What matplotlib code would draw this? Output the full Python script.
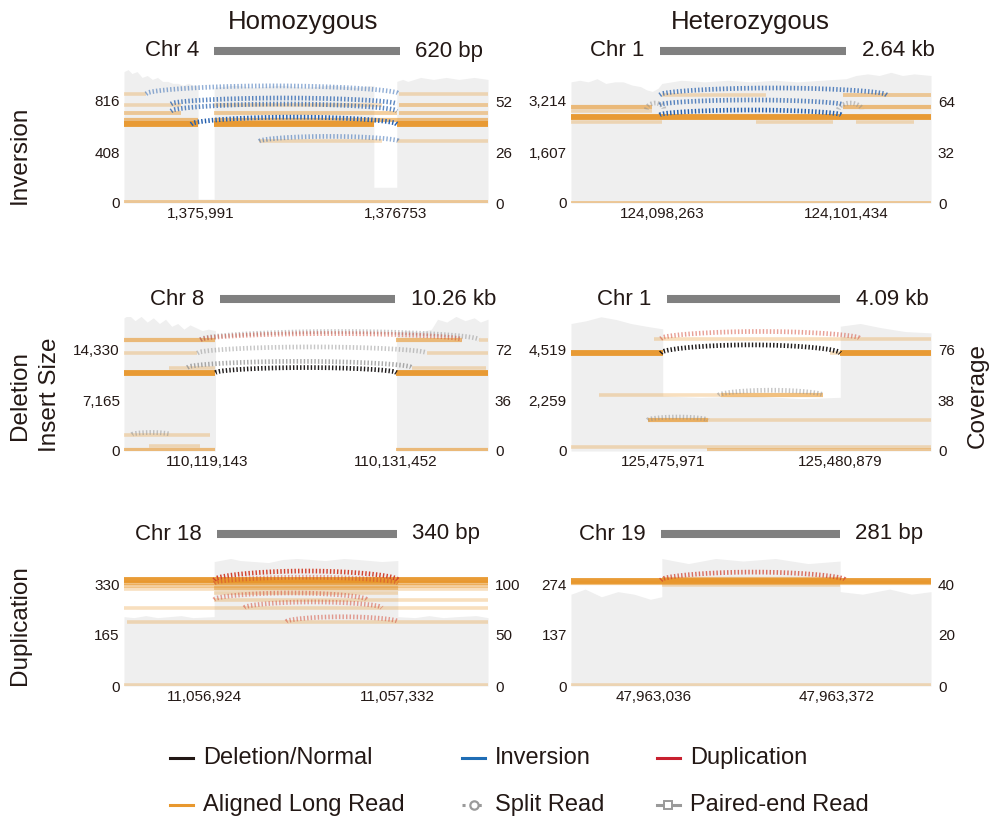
import numpy as np
import matplotlib.pyplot as plt
from matplotlib.lines import Line2D
from matplotlib.transforms import blended_transform_factory

plt.rcParams["font.family"] = ["Liberation Sans", "DejaVu Sans"]

# reads are (start, end, insert size, read count)
# arcs are (start, end, insert size at ends, insert size at apex, kind, read count)
# coverage is a polyline; repeated positions mark the breakpoints

# inversion, homozygous
inv_hom_chrom = "Chr 4"
inv_hom_size = "620 bp"
inv_hom_span = (1376042, 1376769)
inv_hom_xlim = (1375689, 1377114)
inv_hom_xticks = [1375991, 1376753]
inv_hom_xlabels = ["1,375,991", "1,376753"]
inv_hom_yticks = [0, 408, 816]
inv_hom_cov_ticks = [0, 26, 52]
inv_hom_cov_x = [1375689, 1375705, 1375720, 1375740, 1375760, 1375780, 1375800, 1375820,
                 1375840, 1375860, 1375880, 1375900, 1375920, 1375940, 1375960, 1375979,
                 1375979, 1376042, 1376042, 1376120, 1376200, 1376300, 1376400, 1376500,
                 1376600, 1376667, 1376667, 1376757, 1376757, 1376780, 1376800, 1376850,
                 1376900, 1376950, 1377000, 1377060, 1377114]
inv_hom_cov_y = [67, 68, 66, 67, 64, 65, 63, 64, 62, 62, 61, 61, 60, 61, 60, 60,
                 2, 2, 59, 60, 59, 60, 59, 60, 59, 60, 8, 8, 62, 63, 62, 64,
                 63, 64, 63, 64, 63]
inv_hom_reads = [
    (1375689, 1375775, 873, 1), (1376765, 1377114, 873, 1),
    (1375689, 1375912, 784, 1), (1376042, 1376698, 784, 1), (1376765, 1377114, 784, 2),
    (1375689, 1375912, 719, 2), (1376042, 1376757, 719, 2), (1376765, 1377114, 719, 2),
    (1375689, 1375979, 665, 3), (1376042, 1376757, 665, 3), (1376757, 1377114, 665, 3),
    (1375689, 1375979, 630, 12), (1376042, 1376667, 630, 12), (1376757, 1377114, 630, 12),
    (1376219, 1376698, 493, 1), (1376757, 1377114, 493, 1),
    (1375689, 1377114, 8, 2),
]
inv_hom_arcs = [
    (1375775, 1376765, 873, 937, "inv", 1),
    (1375873, 1376757, 792, 840, "inv", 3),
    (1375873, 1376757, 735, 792, "inv", 3),
    (1375952, 1376757, 630, 687, "inv", 12),
    (1376219, 1376765, 493, 533, "inv", 1),
]

# inversion, heterozygous
inv_het_chrom = "Chr 1"
inv_het_size = "2.64 kb"
inv_het_span = (124098228, 124101434)
inv_het_xlim = (124096703, 124102890)
inv_het_xticks = [124098263, 124101434]
inv_het_xlabels = ["124,098,263", "124,101,434"]
inv_het_yticks = [0, 1607, 3214]
inv_het_cov_ticks = [0, 32, 64]
inv_het_cov_x = [124096703, 124096850, 124097000, 124097150, 124097300, 124097450, 124097600,
                 124097750, 124097900, 124098000, 124098100, 124098200, 124098263, 124098600,
                 124099000, 124099400, 124099800, 124100200, 124100600, 124101000, 124101434,
                 124101600, 124101800, 124102000, 124102200, 124102400, 124102600, 124102890]
inv_het_cov_y = [76, 77, 76, 78, 75, 76, 76, 74, 73, 71, 70, 72, 75, 77,
                 76, 77, 76, 77, 76, 77, 78, 80, 81, 80, 82, 80, 81, 80]
inv_het_reads = [
    (124098263, 124100048, 3403, 1), (124101382, 124102890, 3403, 2),
    (124096703, 124098090, 3025, 3), (124101382, 124102890, 3025, 3),
    (124096703, 124098090, 2899, 1),
    (124096703, 124102890, 2710, 12),
    (124096703, 124098263, 2552, 1), (124099875, 124101209, 2552, 1),
    (124101600, 124102600, 2552, 1),
    (124096703, 124102890, 10, 2),
]
inv_het_arcs = [
    (124098228, 124102128, 3403, 3624, "inv", 3),
    (124098228, 124101382, 3088, 3246, "inv", 5),
    (124098228, 124101348, 2773, 2930, "inv", 12),
    (124098000, 124098300, 2950, 3150, "split", 1),
    (124101300, 124101700, 2950, 3150, "split", 1),
]

# deletion, homozygous
del_hom_chrom = "Chr 8"
del_hom_size = "10.26 kb"
del_hom_span = (110119933, 110131448)
del_hom_xlim = (110113682, 110137501)
del_hom_xticks = [110119143, 110131452]
del_hom_xlabels = ["110,119,143", "110,131,452"]
del_hom_yticks = [0, 7165, 14330]
del_hom_cov_ticks = [0, 36, 72]
del_hom_cov_x = [110113682, 110114000, 110114400, 110114800, 110115200, 110115600, 110116000,
                 110116400, 110116800, 110117200, 110117600, 110118000, 110118400, 110118800,
                 110119200, 110119669, 110119669, 110131513, 110131513, 110132200, 110133000,
                 110133800, 110134200, 110134800, 110135400, 110136000, 110136600, 110137000,
                 110137501]
del_hom_cov_y = [94, 96, 92, 95, 91, 94, 90, 93, 88, 90, 86, 89, 87, 85,
                 86, 85, 0, 0, 84, 85, 84, 86, 93, 91, 95, 92, 94, 91,
                 93]
del_hom_reads = [
    (110113682, 110119669, 15633, 3), (110131513, 110135790, 15633, 3),
    (110136909, 110137501, 15633, 1),
    (110113682, 110118485, 13751, 1), (110133487, 110137501, 13751, 1),
    (110116643, 110119669, 11725, 1), (110132500, 110137369, 11725, 1),
    (110113682, 110119669, 11001, 12), (110131513, 110137501, 11001, 12),
    (110113682, 110119340, 2316, 1),
    (110115327, 110118682, 724, 1),
    (110113682, 110119669, 150, 3), (110131513, 110137501, 150, 3),
]
del_hom_arcs = [
    (110118682, 110136909, 15633, 16791, "split", 2),
    (110118682, 110135790, 15633, 16501, "dup", 1),
    (110118485, 110133487, 13751, 14620, "split", 2),
    (110117827, 110132500, 11725, 12593, "split", 3),
    (110119669, 110131513, 11001, 11725, "del", 12),
    (110114208, 110116708, 2316, 2605, "split", 1),
]

# deletion, heterozygous
del_het_chrom = "Chr 1"
del_het_size = "4.09 kb"
del_het_span = (125476081, 125480879)
del_het_xlim = (125473435, 125483387)
del_het_xticks = [125475971, 125480879]
del_het_xlabels = ["125,475,971", "125,480,879"]
del_het_yticks = [0, 2259, 4519]
del_het_cov_ticks = [0, 38, 76]
del_het_cov_x = [125473435, 125473848, 125474262, 125474675, 125475089, 125475502, 125475971,
                 125475971, 125477000, 125478500, 125479800, 125480879, 125480879, 125481430,
                 125481981, 125482671, 125483387]
del_het_cov_y = [95, 97, 100, 98, 95, 93, 91, 41, 40, 41, 39, 40, 93, 95, 92, 89, 88]
del_het_reads = [
    (125475723, 125483387, 4975, 1),
    (125473435, 125475971, 4336, 12), (125480879, 125483387, 4336, 12),
    (125480603, 125480879, 4336, 1),
    (125474207, 125477570, 2465, 1), (125477570, 125480410, 2465, 3),
    (125475557, 125483387, 1369, 1), (125475557, 125477212, 1369, 3),
    (125473435, 125483387, 183, 1), (125477200, 125483387, 60, 2),
]
del_het_arcs = [
    (125475916, 125481430, 4975, 5295, "dup", 1),
    (125475916, 125480879, 4336, 4702, "del", 12),
    (125477515, 125480410, 2465, 2693, "split", 2),
    (125475557, 125477212, 1369, 1506, "split", 2),
]

# duplication, homozygous
dup_hom_chrom = "Chr 18"
dup_hom_size = "340 bp"
dup_hom_span = (11056952, 11057332)
dup_hom_xlim = (11056754, 11057525)
dup_hom_xticks = [11056924, 11057332]
dup_hom_xlabels = ["11,056,924", "11,057,332"]
dup_hom_yticks = [0, 165, 330]
dup_hom_cov_ticks = [0, 50, 100]
dup_hom_cov_x = [11056754, 11056775, 11056800, 11056825, 11056850, 11056875, 11056900, 11056945,
                 11056945, 11056980, 11057000, 11057060, 11057090, 11057120, 11057180, 11057220,
                 11057250, 11057300, 11057334, 11057334, 11057370, 11057400, 11057430, 11057460,
                 11057500, 11057525]
dup_hom_cov_y = [68, 67, 69, 67, 68, 69, 67, 68, 122, 125, 123, 121, 124, 125, 123, 125,
                 124, 122, 123, 68, 67, 69, 67, 68, 69, 67]
dup_hom_reads = [
    (11056754, 11057525, 343, 12), (11056754, 11057525, 333, 4),
    (11056754, 11057525, 323, 2), (11056754, 11057525, 313, 1),
    (11056945, 11057334, 338, 4), (11056945, 11057334, 318, 2),
    (11056945, 11057334, 300, 1),
    (11056945, 11057525, 279, 1),
    (11056754, 11057525, 253, 1),
    (11056760, 11057525, 208, 1),
    (11056754, 11057525, 3, 1),
]
dup_hom_arcs = [
    (11056945, 11057334, 343, 372, "dup", 12),
    (11056945, 11057334, 333, 352, "dup", 1),
    (11056945, 11057268, 279, 301, "dup", 1),
    (11057009, 11057300, 253, 272, "dup", 1),
    (11057098, 11057334, 208, 224, "dup", 1),
]

# duplication, heterozygous
dup_het_chrom = "Chr 19"
dup_het_size = "281 bp"
dup_het_span = (47963049, 47963379)
dup_het_xlim = (47962884, 47963546)
dup_het_xticks = [47963036, 47963372]
dup_het_xlabels = ["47,963,036", "47,963,372"]
dup_het_yticks = [0, 137, 274]
dup_het_cov_ticks = [0, 20, 40]
dup_het_cov_x = [47962884, 47962910, 47962940, 47962970, 47963000, 47963030, 47963051,
                 47963051, 47963100, 47963150, 47963200, 47963260, 47963320, 47963379,
                 47963379, 47963420, 47963470, 47963510, 47963546]
dup_het_cov_y = [36, 38, 35, 37, 36, 34, 35, 50, 48, 50, 49, 50, 48, 49,
                 37, 36, 38, 36, 37]
dup_het_reads = [
    (47962884, 47963546, 282, 12), (47962884, 47963546, 276, 3),
    (47963051, 47963379, 287, 3), (47963051, 47963379, 271, 1),
    (47962884, 47963546, 3, 1),
]
dup_het_arcs = [
    (47963049, 47963389, 284, 306, "dup", 5),
]

col_titles = ["Homozygous", "Heterozygous"]
row_titles = ["Inversion", "Deletion", "Duplication"]

W, H = 995, 823
ORANGE = "#E8962A"
COV_GRAY = "#EFEFEF"
BAR_GRAY = "#808080"
INK = "#231815"
ARC_COLORS = {"inv": "#245FAE", "del": "#1E1A1A", "dup": "#D2432F", "split": "#8E8E8E"}
TOP = 134 / 102  # headroom above the highest tick


def fig_xy(x, y):
    return x / W, 1 - y / H


def read_style(n):
    if n >= 8:
        return 4.2, 0.95
    if n >= 3:
        return 3.0, 0.6
    if n == 2:
        return 2.8, 0.45
    return 2.6, 0.3


def arc_xy(x0, x1, base, peak, n=160):
    t = np.linspace(0, 1, n)
    return x0 + (x1 - x0) * t, base + (peak - base) * np.sin(np.pi * t) ** 0.5


def draw_panel(ax, p):
    cov = ax.twinx()
    ax.set_zorder(cov.get_zorder() + 1)
    ax.patch.set_visible(False)

    cov.fill_between(p["cov_x"], p["cov_y"], color=COV_GRAY, lw=0)
    cov.set_ylim(0, p["cov_ticks"][-1] * TOP)
    cov.set_yticks(p["cov_ticks"], [str(v) for v in p["cov_ticks"]])

    for x0, x1, y, n in p["reads"]:
        lw, a = read_style(n)
        ax.hlines(y, x0, x1, color=ORANGE, lw=lw, alpha=a)
    for x0, x1, base, peak, kind, n in p["arcs"]:
        ax_x, ax_y = arc_xy(x0, x1, base, peak)
        a = 1.0 if n >= 8 else (0.75 if n >= 3 else 0.5)
        ax.plot(ax_x, ax_y, color=ARC_COLORS[kind], lw=3.4, dashes=(0.3, 0.45),
                alpha=a, solid_capstyle="butt")

    ax.set_xlim(*p["xlim"])
    ax.set_ylim(0, p["yticks"][-1] * TOP)
    ax.set_xticks(p["xticks"], p["xlabels"])
    ax.set_yticks(p["yticks"], [f"{v:,}" for v in p["yticks"]])
    for a in (ax, cov):
        for s in a.spines.values():
            s.set_visible(False)
        a.tick_params(length=0, labelsize=11, colors=INK)
    ax.tick_params(axis="x", pad=3)
    ax.tick_params(axis="y", pad=3)
    cov.tick_params(axis="y", pad=5)

    # scale bar with chromosome and event size
    tr = blended_transform_factory(ax.transData, ax.transAxes)
    bar_y = 1 + 18 / 134
    ax.plot(p["span"], [bar_y, bar_y], transform=tr, color=BAR_GRAY, lw=5.8,
            solid_capstyle="butt", clip_on=False)
    ax.annotate(p["chrom"], xy=(p["span"][0], bar_y), xycoords=tr, xytext=(-11, 0),
                textcoords="offset points", ha="right", va="center", fontsize=16, color=INK)
    ax.annotate(p["size"], xy=(p["span"][1], bar_y), xycoords=tr, xytext=(11, 0),
                textcoords="offset points", ha="left", va="center", fontsize=16, color=INK)


def panel(prefix):
    g = globals()
    keys = ["chrom", "size", "span", "xlim", "xticks", "xlabels", "yticks", "cov_ticks",
            "cov_x", "cov_y", "reads", "arcs"]
    return {k: g[f"{prefix}_{k}"] for k in keys}


fig = plt.figure(figsize=(W / 100, H / 100), dpi=100)

col_left = [124, 571]
col_width = [364, 360]
row_base = [203, 451, 686]
grid = [["inv_hom", "inv_het"], ["del_hom", "del_het"], ["dup_hom", "dup_het"]]

for r, row in enumerate(grid):
    for c, prefix in enumerate(row):
        rect = [col_left[c] / W, 1 - row_base[r] / H, col_width[c] / W, 134 / H]
        ax = fig.add_axes(rect)
        draw_panel(ax, panel(prefix))

# column and row headings
for x, t in zip([303, 750], col_titles):
    fig.text(*fig_xy(x, 22), t, ha="center", va="center", fontsize=18.5, color=INK)
for y, t in zip([155, 395, 625], row_titles):
    fig.text(*fig_xy(20, y), t, ha="center", va="center", rotation=90, fontsize=17.5, color=INK)
fig.text(*fig_xy(50, 395), "Insert Size", ha="center", va="center", rotation=90,
         fontsize=17.5, color=INK)
fig.text(*fig_xy(978, 395), "Coverage", ha="center", va="center", rotation=90,
         fontsize=17.5, color=INK)

# legend
legend_items = [
    ("Deletion/Normal", 170, 758, dict(color="#231815")),
    ("Inversion", 462, 758, dict(color="#1F6DB5")),
    ("Duplication", 657, 758, dict(color="#C8202F")),
    ("Aligned Long Read", 170, 805, dict(color="#E8982E")),
    ("Split Read", 462, 805, dict(color="#9A9A9A", ls=":")),
    ("Paired-end Read", 657, 805, dict(color="#9A9A9A")),
]
for label, x, y, style in legend_items:
    x0, yy = fig_xy(x, y)
    x1, _ = fig_xy(x + 23, y)
    fig.add_artist(Line2D([x0, x1], [yy, yy], transform=fig.transFigure, lw=2.2, **style))
    if label == "Split Read":
        fig.add_artist(Line2D([(x0 + x1) / 2], [yy], transform=fig.transFigure, marker="o",
                              ms=6, mfc="white", mec="#9A9A9A", mew=1.6, ls="none"))
    if label == "Paired-end Read":
        fig.add_artist(Line2D([(x0 + x1) / 2], [yy], transform=fig.transFigure, marker="s",
                              ms=6, mfc="white", mec="#9A9A9A", mew=1.4, ls="none"))
    fig.text(*fig_xy(x + 33, y), label, ha="left", va="center", fontsize=17, color=INK)

fig.savefig("out.png", dpi=100, facecolor="white")
